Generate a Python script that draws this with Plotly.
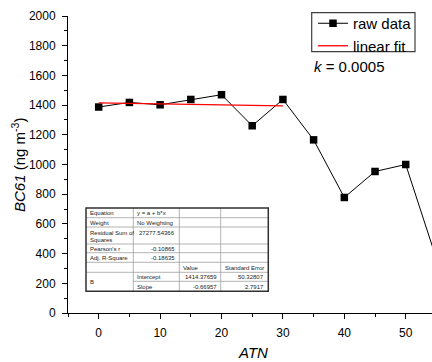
import plotly.graph_objects as go

# ---- data ----
atn = [0, 5, 10, 15, 20, 25, 30, 35, 40, 45, 50, 55]
bc61 = [1387, 1418, 1402, 1438, 1470, 1261, 1438, 1166, 778, 953, 1000, 365]
fit_atn = [0, 30]
fit_bc61 = [1414.38, 1394.29]

x_ticks = [0, 10, 20, 30, 40, 50]
y_ticks = [0, 200, 400, 600, 800, 1000, 1200, 1400, 1600, 1800, 2000]

# fit statistics table (Origin style)
tbl_labels = ["Equation", "Weight", "Residual Sum of<br>Squares", "Pearson's r", "Adj. R-Square"]
tbl_label_vals = ["y = a + b*x", "No Weighting", "27277.54366", "-0.10865", "-0.18635"]
tbl_head = ["Value", "Standard Error"]
tbl_param = "B"
tbl_terms = ["Intercept", "Slope"]
tbl_values = ["1414.37659", "-0.66957"]
tbl_errors = ["50.32807", "2.7917"]

W, H = 432, 362
L, R, T, B = 68, 0, 16, 49
PW = W - L - R
PH = H - T - B


def px(x):
    return (x - L) / PW


def py(y):
    return (H - B - y) / PH


FONT = "Liberation Sans, Arial, sans-serif"

fig = go.Figure()
fig.add_trace(go.Scatter(
    x=atn, y=bc61, mode="lines+markers", name="raw data",
    line=dict(color="black", width=1),
    marker=dict(symbol="square", size=7.5, color="black"),
))
fig.add_trace(go.Scatter(
    x=fit_atn, y=fit_bc61, mode="lines", name="linear fit",
    line=dict(color="#ff0000", width=1.3),
))

# ---- table ----
cx = [86, 133.3, 179.3, 220.7, 268.3]
ry = [208, 217.7, 227, 244, 252.7, 262.3, 272.3, 281.3, 291.3]
shapes = []
inner = dict(color="#a0a0a0", width=0.8)
for i, y in enumerate(ry[1:-1], start=1):
    x0 = cx[1] if i == 7 else cx[0]
    shapes.append(dict(type="line", xref="paper", yref="paper",
                       x0=px(x0), x1=px(cx[-1]), y0=py(y), y1=py(y), line=inner))
for x in cx[1:-1]:
    shapes.append(dict(type="line", xref="paper", yref="paper",
                       x0=px(x), x1=px(x), y0=py(ry[0]), y1=py(ry[-1]), line=inner))
shapes.append(dict(type="rect", xref="paper", yref="paper",
                   x0=px(cx[0]), x1=px(cx[-1]), y0=py(ry[-1]), y1=py(ry[0]),
                   line=dict(color="#303030", width=1.5)))
# legend frame
shapes.append(dict(type="rect", xref="paper", yref="paper",
                   x0=px(311.7), x1=px(415), y0=py(51.7), y1=py(12.7),
                   line=dict(color="#404040", width=1.2)))

annotations = []


def cell(text, col, yc, align="left"):
    if align == "left":
        x, xa = cx[col] + 2, "left"
    else:
        x, xa = cx[col + 1] - 2, "right"
    annotations.append(dict(text=text, xref="paper", yref="paper", x=px(x), y=py(yc),
                            xanchor=xa, yanchor="middle", showarrow=False,
                            font=dict(family=FONT, size=6.0, color="#222")))


for i in range(5):
    if i == 2:
        cell("Residual Sum of", 0, 232.8)
        cell("Squares", 0, 239.6)
        cell(tbl_label_vals[i], 1, 232.5, "right")
        continue
    yc = (ry[i] + ry[i + 1]) / 2 + 0.3
    cell(tbl_labels[i], 0, yc)
    cell(tbl_label_vals[i], 1, yc, "left" if i < 2 else "right")
yc = (ry[5] + ry[6]) / 2 + 0.3
cell(tbl_head[0], 2, yc)
cell(tbl_head[1], 3, yc)
cell(tbl_param, 0, (ry[6] + ry[8]) / 2)
for j in range(2):
    yc = (ry[6 + j] + ry[7 + j]) / 2 + 0.3
    cell(tbl_terms[j], 1, yc)
    cell(tbl_values[j], 2, yc, "right")
    cell(tbl_errors[j], 3, yc, "right")

# k annotation
annotations.append(dict(text="<i>k</i> = 0.0005", xref="paper", yref="paper",
                        x=px(312), y=py(66), xanchor="left", yanchor="middle",
                        showarrow=False, font=dict(family=FONT, size=15, color="black")))
# y title
annotations.append(dict(text="<i>BC61</i> (ng m<sup>-3</sup>)", xref="paper", yref="paper",
                        x=px(18), y=py(165), xanchor="center", yanchor="middle",
                        textangle=-90, showarrow=False,
                        font=dict(family=FONT, size=15, color="black")))
# x title
annotations.append(dict(text="<i>ATN</i>", xref="paper", yref="paper",
                        x=px(253), y=py(352), xanchor="center", yanchor="middle",
                        showarrow=False, font=dict(family=FONT, size=15, color="black")))

fig.update_layout(
    width=W, height=H,
    margin=dict(l=L, r=R, t=T, b=B, pad=0, autoexpand=False),
    paper_bgcolor="white", plot_bgcolor="white",
    font=dict(family=FONT, size=12, color="black"),
    showlegend=True,
    legend=dict(x=px(313), y=py(7), xanchor="left", yanchor="top",
                bgcolor="rgba(0,0,0,0)", borderwidth=0,
                font=dict(family=FONT, size=15, color="black"),
                tracegroupgap=0, itemwidth=30),
    xaxis=dict(range=[-5, 54.28], showline=True, linecolor="black", linewidth=1,
               showgrid=False, zeroline=False, tickmode="array", tickvals=x_ticks,
               ticktext=[str(v) for v in x_ticks], automargin=False,
               ticks="outside", ticklen=5, tickwidth=1, tickcolor="black",
               minor=dict(ticks="outside", ticklen=3, dtick=5, tick0=0, tickcolor="black"),
               tickfont=dict(family=FONT, size=12, color="black"), ticklabelstandoff=4),
    yaxis=dict(range=[0, 2000], showline=True, linecolor="black", linewidth=1,
               showgrid=False, zeroline=False, tickmode="array", tickvals=y_ticks,
               ticktext=[str(v) for v in y_ticks], automargin=False,
               ticks="outside", ticklen=5, tickwidth=1, tickcolor="black",
               minor=dict(ticks="outside", ticklen=3, dtick=100, tick0=0, tickcolor="black"),
               tickfont=dict(family=FONT, size=12, color="black"), ticklabelstandoff=4),
    shapes=shapes,
    annotations=annotations,
)

fig.write_html("out.html", config={"displayModeBar": False},
               post_script="document.body.style.margin='0';")
